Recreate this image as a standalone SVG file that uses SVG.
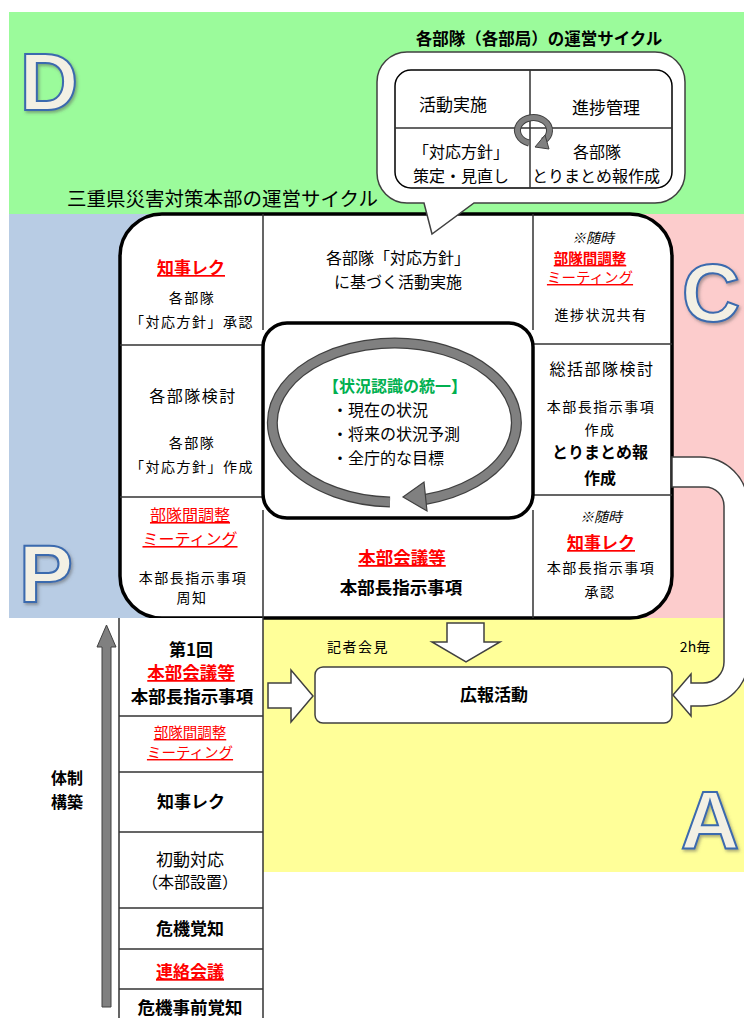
<svg xmlns="http://www.w3.org/2000/svg" width="744" height="1018" viewBox="0 0 744 1018">
<defs>
<style>
text{font-family:"Noto Sans CJK JP","Noto Sans CJK SC",sans-serif;fill:#000;text-anchor:middle}
.s{font-size:14px;letter-spacing:1.5px}
.m{font-size:16px}
.b{font-weight:bold}
.r{fill:#ff0000;text-decoration:underline}
.i{font-style:italic}
.ln{stroke:#333;stroke-width:1.5;fill:none}
.big{font-family:"Liberation Sans",Arial,sans-serif;font-weight:bold;font-size:81px;fill:#f3f0e4;stroke:#3b6aae;stroke-width:2;filter:url(#sh)}
.hollow{fill:#fff;stroke:#404040;stroke-width:1.5;stroke-linejoin:miter}
</style>
<filter id="sh" x="-20%" y="-20%" width="150%" height="150%">
<feDropShadow dx="1.5" dy="2" stdDeviation="1.5" flood-color="#555" flood-opacity="0.5"/>
</filter>
</defs>

<!-- backgrounds -->
<g id="backgrounds">
<rect x="9" y="12" width="735" height="202" fill="#9bfb9b"/>
<rect x="9" y="214" width="200" height="404" fill="#b8cce4"/>
<rect x="560" y="214" width="184" height="406" fill="#fccccc"/>
<rect x="263" y="618" width="481" height="254" fill="#ffff99"/>
</g>

<g id="letters">
<text class="big" x="49" y="110">D</text>
<text class="big" x="46" y="602">P</text>
<text class="big" x="711" y="321">C</text>
<text class="big" x="710" y="848">A</text>
</g>

<text x="67" y="206" style="font-size:19.5px;text-anchor:start">三重県災害対策本部の運営サイクル</text>

<!-- main cycle box -->
<g id="main-box">
<rect x="120" y="214" width="552" height="404" rx="42" fill="#fff" stroke="#000" stroke-width="3.5"/>
<path class="ln" d="M263,214V330M263,510V618M533,214V330M533,510V618M120,345H263M120,497H263M533,344H672M533,495H672"/>
</g>

<g id="inner-box">
<rect x="263" y="323" width="270" height="195" rx="24" fill="#fff" stroke="#000" stroke-width="3.5"/>
<path d="M390,502A122,79.5 0 1 1 425,499.5" fill="none" stroke="#404040" stroke-width="11"/>
<path d="M390,502A122,79.5 0 1 1 425,499.5" fill="none" stroke="#808080" stroke-width="8.5"/>
<polygon points="403,497 424,482 427,511" fill="#808080" stroke="#404040" stroke-width="1.2"/>
<text x="395" y="392" class="m b" style="fill:#00b050">【状況認識の統一】</text>
<text x="332" y="416" class="m" style="text-anchor:start">・現在の状況</text>
<text x="332" y="440" class="m" style="text-anchor:start">・将来の状況予測</text>
<text x="332" y="464" class="m" style="text-anchor:start">・全庁的な目標</text>
</g>

<g id="cell-top-left">
<text x="191" y="274" class="b r" style="font-size:17px">知事レク</text>
<text x="192" y="303" class="s">各部隊</text>
<text x="192" y="327" class="s">「対応方針」承認</text>
</g>
<g id="cell-top-mid">
<text x="398" y="264" class="m">各部隊「対応方針」</text>
<text x="398" y="288" class="m">に基づく活動実施</text>
</g>
<g id="cell-mid-left">
<text x="193" y="402" style="font-size:16px;letter-spacing:1.5px">各部隊検討</text>
<text x="192" y="448" class="s">各部隊</text>
<text x="192" y="472" class="s">「対応方針」作成</text>
</g>
<g id="cell-bottom-left">
<text x="190" y="521" class="r" style="font-size:16px">部隊間調整</text>
<text x="190" y="545" class="r" style="font-size:16px">ミーティング</text>
<text x="193" y="583" class="s">本部長指示事項</text>
<text x="192" y="603" class="s">周知</text>
</g>
<g id="cell-bottom-mid">
<text x="402" y="564" class="b r" style="font-size:17.5px">本部会議等</text>
<text x="401" y="594" class="b" style="font-size:17.5px">本部長指示事項</text>
</g>
<g id="cell-top-right">
<text x="593" y="243" class="i" style="font-size:14px">※随時</text>
<text x="590" y="264" class="r b" style="font-size:14.5px">部隊間調整</text>
<text x="590" y="283" class="r" style="font-size:14.5px">ミーティング</text>
<text x="601" y="320" class="s">進捗状況共有</text>
</g>
<g id="cell-mid-right">
<text x="602" y="375" style="font-size:16px;letter-spacing:1.5px">総括部隊検討</text>
<text x="601" y="412" class="s">本部長指示事項</text>
<text x="600" y="435" class="s">作成</text>
<text x="600" y="458" class="b" style="font-size:16px">とりまとめ報</text>
<text x="600" y="484" class="b" style="font-size:16px">作成</text>
</g>
<g id="cell-bottom-right">
<text x="601" y="522" class="i" style="font-size:14px">※随時</text>
<text x="601" y="549" class="b r" style="font-size:17px">知事レク</text>
<text x="601" y="573" class="s">本部長指示事項</text>
<text x="600" y="597" class="s">承認</text>
</g>

<!-- speech bubble -->
<g id="bubble">
<text x="539" y="45" class="b" style="font-size:16.5px">各部隊（各部局）の運営サイクル</text>
<path d="M407,52H655A30,30 0 0 1 685,82V173A30,30 0 0 1 655,203H474L432,234L424,203H407A30,30 0 0 1 377,173V82A30,30 0 0 1 407,52Z" fill="#fff" stroke="#404040" stroke-width="1.5"/>
<rect x="395" y="70" width="277" height="118" rx="16" fill="#fff" stroke="#000" stroke-width="1.5"/>
<path class="ln" d="M530,70V188M395,128H672" stroke="#000"/>
<path d="M529,143A16,13 0 1 1 543,141" fill="none" stroke="#404040" stroke-width="7"/>
<path d="M529,143A16,13 0 1 1 543,141" fill="none" stroke="#808080" stroke-width="5"/>
<polygon points="535,147 545,135 549,149" fill="#808080" stroke="#404040" stroke-width="1"/>
<text x="453" y="111" style="font-size:17px">活動実施</text>
<text x="606" y="114" style="font-size:17px">進捗管理</text>
<text x="461" y="158" style="font-size:16px">「対応方針」</text>
<text x="461" y="182" style="font-size:16px">策定・見直し</text>
<text x="597" y="158" style="font-size:16px">各部隊</text>
<text x="596" y="182" style="font-size:16px">とりまとめ報作成</text>
</g>

<!-- bottom column -->
<g id="start-column">
<rect x="119" y="618" width="144" height="402" fill="#fff"/>
<path class="ln" d="M119,618V1018M263,618V1018M119,716H263M119,772H263M119,832H263M119,908H263M119,949H263M119,989H263"/>
<text x="191" y="656" class="b" style="font-size:17px">第1回</text>
<text x="191" y="679" class="b r" style="font-size:17.5px">本部会議等</text>
<text x="192" y="703" class="b" style="font-size:17.5px">本部長指示事項</text>
<text x="190" y="738" class="r" style="font-size:14.5px">部隊間調整</text>
<text x="190" y="758" class="r" style="font-size:14.5px">ミーティング</text>
<text x="191" y="808" class="b" style="font-size:17px">知事レク</text>
<text x="190" y="866" style="font-size:17px">初動対応</text>
<text x="190" y="888" style="font-size:16px">（本部設置）</text>
<text x="190" y="935" class="b" style="font-size:17px">危機覚知</text>
<text x="190" y="978" class="b r" style="font-size:17px">連絡会議</text>
<text x="190" y="1014" class="b" style="font-size:17.5px">危機事前覚知</text>
</g>

<g id="build-arrow">
<polygon points="102,1007 102,647 97,647 106.5,625 116,647 111,647 111,1007" fill="#808080" stroke="#404040" stroke-width="1"/>
<text x="67" y="784" class="b" style="font-size:16px">体制</text>
<text x="67" y="808" class="b" style="font-size:16px">構築</text>
</g>

<!-- press -->
<g id="press">
<rect x="315" y="667" width="357" height="56" rx="8" fill="#fff" stroke="#404040" stroke-width="1.5"/>
<text x="494" y="701" class="b" style="font-size:17px">広報活動</text>
</g>

<g id="connectors">
<polygon class="hollow" points="447,623 484,623 484,642 500,642 466,662 432,642 447,642"/>
<polygon class="hollow" points="268,683 291,683 291,670 313,696 291,722 291,708 268,708"/>
<path class="hollow" d="M672,457H700A48,48 0 0 1 748,505V660A46,46 0 0 1 702,706H691V716L673,695L691,674V683H703A21,21 0 0 0 724,662V506A19,19 0 0 0 705,487H672Z"/>
<text x="358" y="652" class="s">記者会見</text>
<text x="695" y="652" style="font-size:14px">2h毎</text>
</g>
</svg>
